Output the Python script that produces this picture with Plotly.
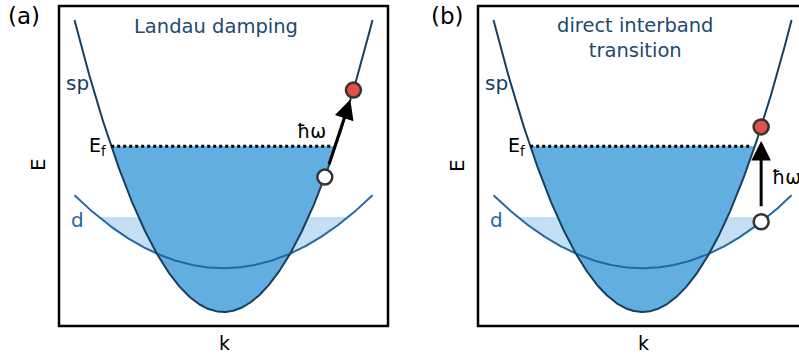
import numpy as np
import plotly.graph_objects as go

W, H = 799, 359

# ---- schematic band parameters ----
panels = ["(a)", "(b)"]
titles = ["Landau damping", "direct interband<br>transition"]
sp_curv = 1.0          # sp band: E = sp_curv * k^2
d_offset = 0.15        # d band: E = d_offset + d_curv * k^2
d_curv = 0.25
E_fermi = 0.568
E_dfill = 0.325
k_max = 1.0
# transitions: (k_start, E_start) -> (k_end, E_end)
start_pts = [(0.68, 0.462), (0.796, 0.309)]
end_pts = [(0.872, 0.760), (0.796, 0.634)]

SP_COL = "#173f5f"
D_COL = "#2468a2"
DARK_FILL = "#62aee0"
LIGHT_FILL = "#c3dff3"
TXT_COL = "#1d4a6e"

def px_x(p):
    return p / W

def px_y(p):
    return 1 - p / H

fig = go.Figure()

x_domains = [[px_x(59), px_x(388)], [px_x(478), 1.0]]
x_ranges = [[-1.104, 1.104], [-1.104, 1.050]]
y_dom = [px_y(326), px_y(6)]
y_rng = [-0.048, 1.048]

k = np.linspace(-k_max, k_max, 401)
sp = sp_curv * k ** 2
dd = d_offset + d_curv * k ** 2

for i in range(2):
    xa = "x" if i == 0 else "x2"
    ya = "y" if i == 0 else "y2"
    # light d-band fill
    kd = np.sqrt((E_dfill - d_offset) / d_curv)
    kk = np.linspace(-kd, kd, 200)
    fx = np.concatenate([kk, [kd, -kd]])
    fy = np.concatenate([d_offset + d_curv * kk ** 2, [E_dfill, E_dfill]])
    fig.add_trace(go.Scatter(x=fx, y=fy, fill="toself", fillcolor=LIGHT_FILL,
                             line=dict(width=0), mode="lines", hoverinfo="skip",
                             xaxis=xa, yaxis=ya, showlegend=False))
    # dark sp fill
    kf = np.sqrt(E_fermi / sp_curv)
    kk = np.linspace(-kf, kf, 200)
    fx = np.concatenate([kk, [kf, -kf]])
    fy = np.concatenate([sp_curv * kk ** 2, [E_fermi, E_fermi]])
    fig.add_trace(go.Scatter(x=fx, y=fy, fill="toself", fillcolor=DARK_FILL,
                             line=dict(width=0), mode="lines", hoverinfo="skip",
                             xaxis=xa, yaxis=ya, showlegend=False))
    # d band
    fig.add_trace(go.Scatter(x=k, y=dd, mode="lines", line=dict(color=D_COL, width=2),
                             xaxis=xa, yaxis=ya, showlegend=False))
    # sp band
    fig.add_trace(go.Scatter(x=k, y=sp, mode="lines", line=dict(color=SP_COL, width=2),
                             xaxis=xa, yaxis=ya, showlegend=False))
    # Fermi level
    fig.add_trace(go.Scatter(x=[-kf, kf - 0.03], y=[E_fermi, E_fermi], mode="lines",
                             line=dict(color="black", width=3, dash="dot"),
                             xaxis=xa, yaxis=ya, showlegend=False))
    # markers
    fig.add_trace(go.Scatter(x=[start_pts[i][0]], y=[start_pts[i][1]], mode="markers",
                             marker=dict(size=15, color="white",
                                         line=dict(color="#333333", width=2.5)),
                             xaxis=xa, yaxis=ya, showlegend=False))
    fig.add_trace(go.Scatter(x=[end_pts[i][0]], y=[end_pts[i][1]], mode="markers",
                             marker=dict(size=15, color="#e0514a",
                                         line=dict(color="#333333", width=2.5)),
                             xaxis=xa, yaxis=ya, showlegend=False))

layout_axes = {}
for i in range(2):
    sx = "xaxis" if i == 0 else "xaxis2"
    sy = "yaxis" if i == 0 else "yaxis2"
    layout_axes[sx] = dict(domain=x_domains[i], range=x_ranges[i], visible=False,
                           anchor="y" if i == 0 else "y2", fixedrange=True)
    layout_axes[sy] = dict(domain=y_dom, range=y_rng, visible=False,
                           anchor="x" if i == 0 else "x2", fixedrange=True)

FONT = "DejaVu Sans"
ann = []
shapes = []

def txt(x, y, text, size, color="black", xref="paper", yref="paper", xanchor="center", angle=0):
    return dict(x=x, y=y, xref=xref, yref=yref, text=text, showarrow=False,
                xanchor=xanchor, yanchor="middle", textangle=angle,
                font=dict(family=FONT, size=size, color=color))

for i in range(2):
    xa = "x" if i == 0 else "x2"
    ya = "y" if i == 0 else "y2"
    # frame
    x0 = x_domains[i][0]
    x1 = x_domains[i][0] + (329 / W)
    shapes.append(dict(type="rect", xref="paper", yref="paper", x0=x0, x1=x1,
                       y0=y_dom[0], y1=y_dom[1], line=dict(color="black", width=2.5),
                       fillcolor="rgba(0,0,0,0)", layer="above"))
    # arrow
    so = [(10, 12), (14, 14)][i]
    ann.append(dict(x=end_pts[i][0], y=end_pts[i][1], ax=start_pts[i][0], ay=start_pts[i][1],
                    xref=xa, yref=ya, axref=xa, ayref=ya, text="", showarrow=True,
                    arrowhead=2, arrowsize=1.3, arrowwidth=3, arrowcolor="black",
                    standoff=so[0], startstandoff=so[1]))
    # panel label
    ann.append(txt(px_x([24, 447][i]), px_y(16), panels[i], 23))
    # title
    ann.append(txt(-0.05, [0.977, 0.94][i], titles[i], 19.5, TXT_COL, xa, ya))
    # band labels
    ann.append(txt(-0.983, 0.784, "sp", 20, SP_COL, xa, ya))
    ann.append(txt(-0.983, 0.315, "d", 20, D_COL, xa, ya))
    ann.append(txt(-0.775, E_fermi, "E<sub>f</sub>", 19, "black", xa, ya, xanchor="right"))
    # axis labels
    ann.append(txt(px_x([38, 457][i]), px_y(165), "E", 20, angle=-90))
    ann.append(txt(px_x([224, 643][i]), px_y(343), "k", 19))

# hbar omega labels
ann.append(txt(0.70, 0.62, "ħω", 19, "black", "x", "y", xanchor="right"))
ann.append(txt(0.855, 0.462, "ħω", 19, "black", "x2", "y2", xanchor="left"))

fig.update_layout(width=W, height=H, margin=dict(l=0, r=0, t=0, b=0),
                  paper_bgcolor="white", plot_bgcolor="white",
                  annotations=ann, shapes=shapes, showlegend=False, **layout_axes)

fig.write_html("out.html", config={"displayModeBar": False})
